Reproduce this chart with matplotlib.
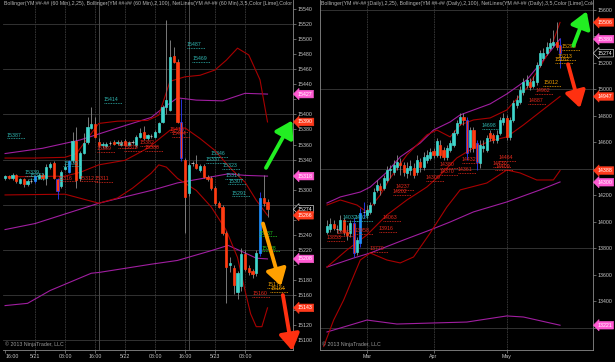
import matplotlib
matplotlib.use("Agg")
import matplotlib.pyplot as plt
import matplotlib.transforms as mtransforms

# ---------------- 60 min chart (left) ----------------
left_open = [15316, 15318, 15315, 15319, 15309, 15314, 15307, 15312, 15311, 15316,
             15320, 15316, 15330, 15336, 15314, 15305, 15328, 15324, 15339, 15365,
             15315, 15349, 15364, 15382, 15387, 15364, 15359, 15358, 15362, 15364,
             15362, 15360, 15365, 15360, 15363, 15359, 15370, 15376, 15368, 15371,
             15370, 15377, 15390, 15410, 15406, 15478, 15470, 15390, 15339, 15295,
             15334, 15334, 15326, 15331, 15317, 15315, 15302, 15282, 15277, 15242,
             15200, 15196, 15164, 15172, 15215, 15196, 15192, 15189, 15216, 15289,
             15283]
left_high = [15320, 15320, 15322, 15321, 15316, 15316, 15314, 15316, 15320, 15322,
             15322, 15334, 15337, 15338, 15316, 15326, 15336, 15340, 15377, 15383,
             15352, 15375, 15397, 15410, 15396, 15368, 15364, 15363, 15365, 15366,
             15366, 15366, 15367, 15365, 15366, 15372, 15382, 15385, 15374, 15374,
             15379, 15390, 15412, 15525, 15499, 15489, 15474, 15420, 15342, 15336,
             15338, 15346, 15334, 15334, 15320, 15318, 15305, 15285, 15280, 15245,
             15210, 15200, 15192, 15222, 15220, 15200, 15195, 15220, 15297, 15319,
             15288]
left_low = [15313, 15314, 15313, 15309, 15307, 15303, 15305, 15309, 15309, 15314,
            15313, 15306, 15328, 15314, 15288, 15302, 15326, 15322, 15335, 15302,
            15312, 15347, 15361, 15380, 15368, 15357, 15356, 15356, 15359, 15359,
            15360, 15358, 15358, 15358, 15361, 15357, 15368, 15366, 15366, 15369,
            15368, 15375, 15388, 15400, 15404, 15468, 15388, 15338, 15242, 15292,
            15331, 15327, 15324, 15315, 15312, 15300, 15280, 15275, 15240, 15149,
            15190, 15162, 15155, 15166, 15192, 15186, 15182, 15185, 15212, 15278,
            15264]
left_close = [15318, 15316, 15319, 15311, 15314, 15307, 15312, 15312, 15318, 15320,
              15316, 15330, 15334, 15316, 15298, 15324, 15330, 15338, 15365, 15313,
              15349, 15362, 15383, 15387, 15370, 15359, 15361, 15361, 15362, 15361,
              15364, 15364, 15360, 15363, 15363, 15370, 15375, 15368, 15372, 15371,
              15377, 15388, 15410, 15419, 15476, 15470, 15390, 15342, 15290, 15333,
              15335, 15329, 15331, 15317, 15314, 15302, 15282, 15277, 15242, 15197,
              15202, 15173, 15189, 15215, 15195, 15190, 15188, 15216, 15289, 15282,
              15274]
left_marked = [8, 14, 17, 47, 68]
left_tick_pos = [0, 8, 16, 24, 32, 40, 48, 56, 64]
left_tick_labels = ['16:00', '5/21', '08:00', '16:00', '5/22', '08:00', '16:00', '5/23', '08:00']
left_sessions = [25, 49]

# Bollinger(25) - upper / middle / lower, read at sample bars
left_bb25_up_x = [0, 8, 16, 19, 22, 25, 30, 38, 41, 44, 48, 52, 56, 59, 62, 65, 68, 70]
left_bb25_up = [15342, 15342, 15343, 15348, 15368, 15388, 15391, 15392, 15399, 15444,
                15450, 15452, 15459, 15472, 15488, 15479, 15446, 15390]
left_bb25_mid_x = [0, 16, 20, 25, 32, 38, 44, 48, 52, 56, 60, 64, 67, 70]
left_bb25_mid = [15317, 15318, 15323, 15333, 15339, 15355, 15379, 15382, 15368, 15352,
                 15329, 15310, 15286, 15266]
left_bb25_low_x = [0, 16, 22, 25, 30, 34, 39, 41, 43, 46, 51, 55, 59, 62, 64, 65.5, 67, 68.5, 70]
left_bb25_low = [15293, 15294, 15286, 15282, 15289, 15302, 15322, 15333, 15330, 15315,
                 15299, 15277, 15246, 15210, 15166, 15135, 15118, 15118, 15143]
# Bollinger(100)
left_bb100_up_x = [0, 10, 20, 30, 39, 42, 46, 51, 58, 64, 70]
left_bb100_up = [15348, 15355, 15366, 15382, 15396, 15408, 15422, 15419, 15418, 15428, 15427]
left_bb100_mid_x = [0, 8, 25, 39, 46, 55, 59.5, 64, 70]
left_bb100_mid = [15247, 15255, 15282, 15299, 15309, 15317, 15321, 15319, 15318]
left_bb100_low_x = [0, 6, 12, 23, 25, 39, 46, 55, 59.5, 64, 67, 70]
left_bb100_low = [15146, 15149, 15166, 15189, 15190, 15201, 15206, 15219, 15226, 15216,
                  15209, 15208]

# NetLines labels: (start bar, level, text)
left_net_cyan = [(48.5, 15488, '15487'), (49.9, 15470, '15469'), (26.4, 15415, '15414'),
                 (0.5, 15368, '15387'), (5.3, 15318, '15339'), (6.4, 15314, '15331'),
                 (15.5, 15331, '15335'), (54.7, 15344, '15346'), (53.6, 15336, '15337'),
                 (57.9, 15328, '15323'), (58.7, 15314, '15314'), (59.5, 15307, '15307'),
                 (60.5, 15291, '15291')]
left_net_red = [(14.1, 15311, '15316'), (20, 15311, '15312'), (24, 15310, '15311'),
                (24.5, 15350, '15369'), (30.1, 15356, '15373'), (31.7, 15352, '15370'),
                (36, 15358, '15382'), (37.3, 15352, '15380'), (44, 15376, '15415'),
                (44.5, 15370, '15404'), (65.9, 15158, '15160')]
left_net_green = [(67.7, 15238, '15237'), (68.5, 15218, '15228')]
left_net_orange = [(69.9, 15170, '15172'), (70.7, 15164, '15164')]

left_tags = [(15427, 'mag'), (15390, 'red'), (15318, 'mag'), (15274, 'last'),
             (15266, 'red'), (15208, 'mag'), (15143, 'red')]

# ---------------- Daily chart (right) ----------------
right_open = [13925, 13947, 13985, 13947, 13940, 14015, 13925, 13917, 13992, 13774,
              13842, 14068, 14053, 14075, 14143, 14242, 14272, 14257, 14317, 14392,
              14377, 14415, 14445, 14430, 14370, 14392, 14408, 14377, 14453, 14415,
              14468, 14483, 14536, 14506, 14581, 14543, 14491, 14543, 14581, 14672,
              14747, 14792, 14770, 14566, 14694, 14596, 14445, 14558, 14543, 14672,
              14657, 14619, 14672, 14755, 14785, 14642, 14770, 14883, 14906, 14981,
              15034, 15057, 15026, 15057, 15185, 15238, 15275, 15313, 15336, 15359,
              15336]
right_high = [14015, 14030, 14015, 13977, 14053, 14030, 13977, 14015, 14030, 13887,
              14106, 14151, 14128, 14151, 14257, 14317, 14295, 14355, 14423, 14430,
              14468, 14506, 14483, 14453, 14453, 14468, 14445, 14506, 14483, 14528,
              14543, 14558, 14558, 14634, 14619, 14566, 14581, 14619, 14694, 14770,
              14823, 14823, 14792, 14717, 14717, 14619, 14619, 14619, 14657, 14694,
              14672, 14694, 14792, 14823, 14808, 14792, 14921, 14958, 15026, 15087,
              15110, 15087, 15102, 15208, 15298, 15313, 15359, 15389, 15450, 15506,
              15389]
right_low = [13910, 13925, 13940, 13917, 13925, 13902, 13864, 13887, 13736, 13751,
             13811, 14030, 14030, 14060, 14128, 14226, 14205, 14242, 14302, 14332,
             14355, 14392, 14355, 14347, 14332, 14355, 14332, 14355, 14377, 14392,
             14445, 14468, 14483, 14491, 14483, 14468, 14468, 14528, 14566, 14657,
             14732, 14732, 14468, 14528, 14528, 14392, 14408, 14528, 14528, 14611,
             14596, 14596, 14657, 14732, 14619, 14619, 14755, 14860, 14890, 14958,
             15011, 14996, 15011, 15034, 15170, 15223, 15260, 15298, 15321, 15298,
             15162]
right_close = [13970, 13985, 13955, 13950, 14015, 13925, 13905, 13992, 13766, 13864,
               14068, 14075, 14091, 14128, 14226, 14279, 14242, 14332, 14392, 14400,
               14430, 14453, 14430, 14377, 14408, 14423, 14355, 14468, 14415, 14491,
               14506, 14528, 14506, 14611, 14506, 14491, 14558, 14596, 14672, 14747,
               14792, 14770, 14521, 14694, 14558, 14453, 14581, 14574, 14634, 14634,
               14619, 14657, 14770, 14785, 14642, 14770, 14898, 14921, 14996, 15057,
               15072, 15019, 15064, 15185, 15275, 15275, 15321, 15351, 15359, 15321,
               15274]
right_marked = [8, 10, 11, 42, 45, 70]
right_tick_pos = [12, 32, 54]
right_tick_labels = ['Mar', 'Apr', 'May']

right_bb25_up_x = [0, 4, 9, 12, 16, 19, 24, 30, 33, 37, 40, 44, 49, 54, 60, 64, 67, 70]
right_bb25_up = [14128, 14166, 14128, 14075, 14204, 14332, 14506, 14657, 14694, 14642,
                 14732, 14770, 14785, 14845, 15011, 15170, 15298, 15506]
right_bb25_mid_x = [0, 6, 12, 18, 24, 30, 34, 39, 44, 49, 54, 59, 64, 70]
right_bb25_mid = [13660, 13789, 13902, 14053, 14166, 14264, 14355, 14483, 14558, 14611,
                  14642, 14732, 14830, 14947]
right_bb25_low_x = [-1, 2, 5, 10, 13, 18, 22, 26, 31, 36, 40, 48, 54, 58, 63, 68, 70]
right_bb25_low = [13060, 13260, 13411, 13713, 13766, 13713, 13691, 13736, 13917, 14113,
                  14242, 14294, 14392, 14370, 14317, 14317, 14388]
right_bb100_up_x = [0, 4, 10, 13, 18, 22, 28, 32, 37, 40, 44, 49, 54, 60, 65, 70]
right_bb100_up = [14143, 14189, 14226, 14264, 14377, 14491, 14596, 14694, 14755, 14808,
                  14845, 14891, 14966, 15072, 15223, 15381]
right_bb100_mid_x = [0, 8, 13, 23, 31, 37, 44, 54, 64, 70]
right_bb100_mid = [13660, 13728, 13766, 13864, 13940, 14000, 14076, 14151, 14242, 14302]
right_bb100_low_x = [0, 12, 21, 32, 42, 54, 59, 70]
right_bb100_low = [13170, 13260, 13230, 13238, 13245, 13291, 13283, 13221]

right_net_orange = [(70.6, 15298, '15290'), (69.4, 15223, '15213'), (68.5, 15200, '15182'),
                    (64.9, 15026, '15012')]
right_net_red = [(62.5, 14966, '14962'), (60.4, 14891, '14887'), (51.4, 14460, '14464'),
                 (49.8, 14415, '14430'), (50.5, 14392, '14409'), (40.5, 14445, '14432'),
                 (39.3, 14370, '14361'), (33.9, 14408, '14380'), (33.9, 14355, '14370'),
                 (29.7, 14310, '14309'), (20.7, 14242, '14237'), (19.8, 14204, '14202'),
                 (16.8, 14008, '14063'), (15.6, 13925, '13916'), (12.9, 13774, '13770'),
                 (0, 13857, '13853'), (3, 13894, '13987'), (8.4, 13910, '13958')]
right_net_cyan = [(46.5, 14702, '14698'), (4.8, 14008, '14032'), (8.4, 14008, '14024')]

right_tags = [(15506, 'red'), (15380, 'mag'), (15274, 'last'), (14947, 'red'),
              (14388, 'red'), (14300, 'mag'), (13221, 'mag')]

left_title = ("Bollinger(YM ##-## (60 Min),2,25), Bollinger(YM ##-## (60 Min),2,100), "
              "NetLines(YM ##-## (60 Min),3,5,Color [Lime],Color [DarkOrange],Color [Red])")
right_title = ("Bollinger(YM ##-## (Daily),2,25), Bollinger(YM ##-## (Daily),2,100), "
               "NetLines(YM ##-## (Daily),3,5,Color [Lime],Color [DarkOrange],Color [Red])")

# ---------------- styling ----------------
plt.rcParams['font.family'] = ['Liberation Sans', 'DejaVu Sans']
FS = 3.8
UP = '#3fd6cc'
DOWN = '#ff3c12'
MARK_UP = '#1e90ff'
MARK_EDGE = '#2a3cff'
WICK = '#8c8c8c'
BB25 = '#a80000'
BB100 = '#a01ea0'
GRID = '#3a3a3a'
AXIS = '#8a8a8a'
TXT = '#c8c8c8'
NET = {'cyan': '#2fb5b0', 'red': '#e8281c', 'green': '#22cc22', 'orange': '#f0a000'}
TAG = {'mag': '#ff5ad2', 'red': '#ff3a1c', 'last': '#000000'}


def draw_candles(ax, opens, highs, lows, closes, marked, width, min_body):
    for i, (o, h, l, c) in enumerate(zip(opens, highs, lows, closes)):
        mark = i in marked
        ax.vlines(i, l, h, color=MARK_EDGE if mark else WICK, lw=0.6, zorder=3)
        lo, hi = min(o, c), max(o, c)
        if hi - lo < min_body:
            ax.hlines(c, i - width / 2, i + width / 2, color='#c0c0c0', lw=0.6, zorder=4)
            continue
        if c > o:
            face = MARK_UP if mark else UP
            edge = face
        else:
            face = DOWN
            edge = MARK_EDGE if mark else DOWN
        ax.bar(i, hi - lo, width, bottom=lo, color=face, edgecolor=edge,
               linewidth=0.5, zorder=4)


def draw_band(ax, xs, ys, color):
    ax.plot(xs, ys, color=color, lw=0.8, zorder=2)


def net_lines(ax, items, color, span):
    for x0, level, text in items:
        ax.plot([x0, x0 + span], [level, level], ls=(0, (1, 1)), color=color,
                lw=0.6, zorder=5)
        ax.annotate(text, (x0, level), xytext=(0, 0.6), textcoords='offset points',
                    color=color, fontsize=FS, ha='left', va='bottom', zorder=6)


def price_tags(ax, tags):
    trans = mtransforms.blended_transform_factory(ax.transAxes, ax.transData)
    trans = trans + mtransforms.ScaledTranslation(4.5 / 100, 0, ax.figure.dpi_scale_trans)
    for value, kind in tags:
        edge = 'white' if kind == 'last' else TAG[kind]
        ax.text(1, value, str(value), transform=trans, fontsize=FS, color='white',
                ha='left', va='center', zorder=10, clip_on=False,
                bbox=dict(boxstyle='larrow,pad=0.25', fc=TAG[kind], ec=edge, lw=0.4))


def style_axes(ax, yticks, tags, hide, hgrid, vgrid, xpos, xlabels, title):
    ax.set_facecolor('black')
    ax.yaxis.tick_right()
    ax.set_yticks(yticks)
    # tick labels sitting under a price tag are covered in the original
    ax.set_yticklabels([str(t) if all(abs(t - v) > hide for v, _ in tags) else ''
                        for t in yticks])
    ax.set_xticks(xpos)
    ax.set_xticklabels(xlabels)
    ax.tick_params(colors=AXIS, labelcolor=TXT, labelsize=FS, length=2, width=0.5, pad=1)
    for y in hgrid:
        ax.axhline(y, color=GRID, lw=0.6, zorder=1)
    for x in vgrid:
        ax.axvline(x, color=GRID, lw=0.6, ls=(0, (2, 1)), zorder=1)
    ax.spines['top'].set_visible(False)
    for side in ['left', 'right', 'bottom']:
        ax.spines[side].set_color(AXIS)
        ax.spines[side].set_linewidth(0.6)
    ax.text(0.003, 0.997, title, transform=ax.transAxes, fontsize=FS, color='#b4b4b4',
            ha='left', va='top', clip_on=True, zorder=8)
    ax.annotate('\u00a9 2013 NinjaTrader, LLC', (0, 0), xycoords='axes fraction',
                xytext=(1.5, 2), textcoords='offset points', fontsize=FS,
                color='#9a9a9a', ha='left', va='bottom', zorder=8)


def arrow(ax, start, tip, color):
    ax.annotate('', xy=tip, xytext=start, zorder=9, annotation_clip=False,
                arrowprops=dict(arrowstyle='-|>,head_length=0.55,head_width=0.34',
                                color=color, lw=2.8, mutation_scale=18,
                                shrinkA=0, shrinkB=0))


fig = plt.figure(figsize=(6.15, 3.62), dpi=100, facecolor='black')
ax1 = fig.add_axes([3 / 615, 12 / 362, 290 / 615, 350 / 362])
ax2 = fig.add_axes([320 / 615, 12 / 362, 273 / 615, 350 / 362])

# left chart
ax1.set_xlim(-0.55, 76.8)
ax1.set_ylim(15087, 15552)
style_axes(ax1, range(15100, 15541, 20), left_tags, 8, range(15100, 15521, 60),
           left_tick_pos[1:], left_tick_pos, left_tick_labels, left_title)
ax1.spines['left'].set_visible(False)
ax1.get_xticklabels()[0].set_horizontalalignment('left')
for x in left_sessions:
    ax1.axvline(x, color='#4a4a4a', lw=0.7, zorder=1)
draw_band(ax1, left_bb100_up_x, left_bb100_up, BB100)
draw_band(ax1, left_bb100_mid_x, left_bb100_mid, BB100)
draw_band(ax1, left_bb100_low_x, left_bb100_low, BB100)
draw_band(ax1, left_bb25_up_x, left_bb25_up, BB25)
draw_band(ax1, left_bb25_mid_x, left_bb25_mid, BB25)
draw_band(ax1, left_bb25_low_x, left_bb25_low, BB25)
draw_candles(ax1, left_open, left_high, left_low, left_close, left_marked, 0.62, 1.2)
net_lines(ax1, left_net_cyan, NET['cyan'], 4.8)
net_lines(ax1, left_net_red, NET['red'], 4.8)
net_lines(ax1, left_net_green, NET['green'], 4.8)
net_lines(ax1, left_net_orange, NET['orange'], 4.8)
arrow(ax1, (69.6, 15329), (76.6, 15392), '#22ee22')
arrow(ax1, (68.8, 15255), (73.6, 15172), '#ffa000')
arrow(ax1, (74.1, 15160), (76.6, 15086), '#ff3010')
price_tags(ax1, left_tags)

# right chart
ax2.set_xlim(-2.1, 79.9)
ax2.set_ylim(13034, 15675)
style_axes(ax2, range(13200, 15601, 200), right_tags, 45, range(13200, 15601, 600),
           right_tick_pos, right_tick_pos, right_tick_labels, right_title)
draw_band(ax2, right_bb100_up_x, right_bb100_up, BB100)
draw_band(ax2, right_bb100_mid_x, right_bb100_mid, BB100)
draw_band(ax2, right_bb100_low_x, right_bb100_low, BB100)
draw_band(ax2, right_bb25_up_x, right_bb25_up, BB25)
draw_band(ax2, right_bb25_mid_x, right_bb25_mid, BB25)
draw_band(ax2, right_bb25_low_x, right_bb25_low, BB25)
draw_candles(ax2, right_open, right_high, right_low, right_close, right_marked, 0.62, 8)
net_lines(ax2, right_net_red, NET['red'], 5.4)
net_lines(ax2, right_net_cyan, NET['cyan'], 5.4)
net_lines(ax2, right_net_orange, NET['orange'], 5.4)
arrow(ax2, (74.0, 15330), (78.0, 15590), '#22ee22')
arrow(ax2, (72.4, 15190), (76.0, 14860), '#ff3010')
price_tags(ax2, right_tags)

fig.savefig('out.png', dpi=100, facecolor='black')
